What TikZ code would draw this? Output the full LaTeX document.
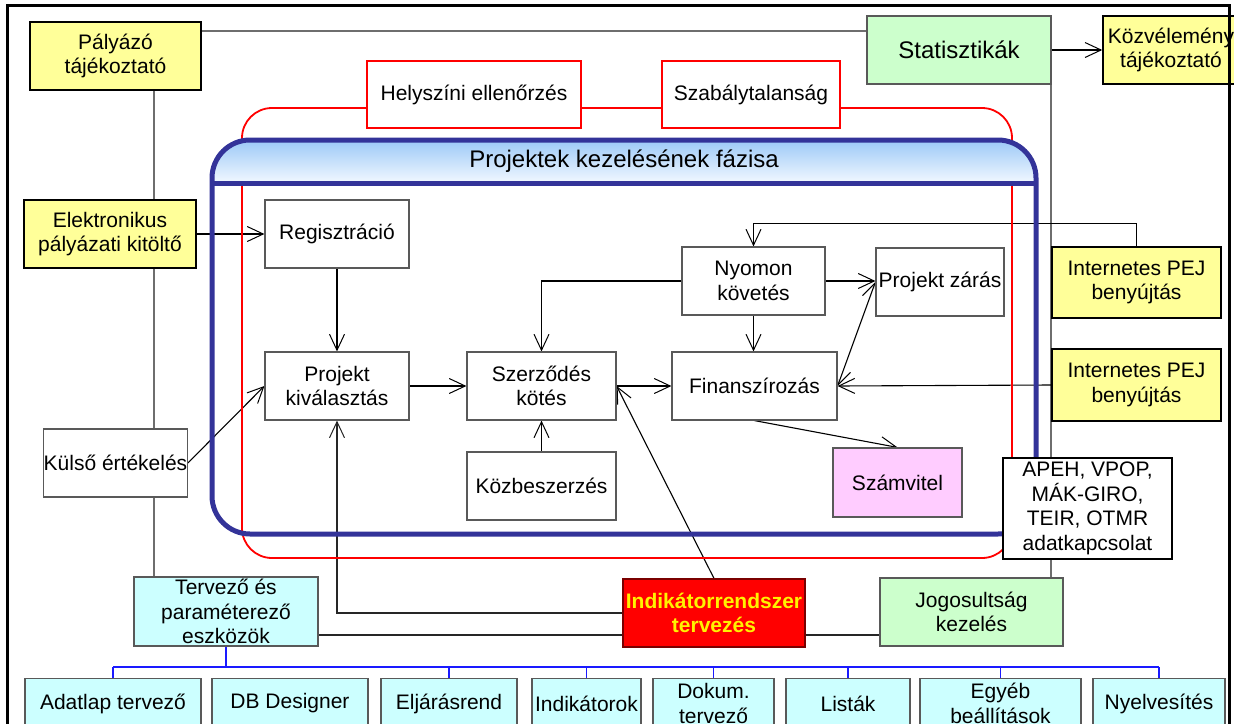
\documentclass[tikz,border=0pt]{standalone}
\usepackage{fontspec}
\setmainfont{Liberation Sans}
\usetikzlibrary{arrows.meta,calc}
\definecolor{yel}{HTML}{FFFF99}
\definecolor{grn}{HTML}{CCFFCC}
\definecolor{cyn}{HTML}{CCFFFF}
\definecolor{pnk}{HTML}{FFCCFF}
\definecolor{bfr}{HTML}{333399}
\definecolor{bgray}{HTML}{595959}
\definecolor{lgray}{HTML}{6E6E6E}
\definecolor{hdrtop}{HTML}{9CC9F7}
\definecolor{hdrbot}{HTML}{F2F8FF}
\definecolor{treeblue}{HTML}{1A1AFF}
\definecolor{darkred}{HTML}{7A0000}
\pgfdeclarelayer{bg}
\pgfdeclarelayer{conn}
\pgfdeclarelayer{frames}
\pgfdeclarelayer{top}
\pgfsetlayers{bg,conn,frames,main,top}
\newcommand{\fsz}{\fontsize{21}{24.5}\selectfont}
\newcommand{\fbig}{\fontsize{24}{28}\selectfont}
\begin{document}
\begin{tikzpicture}[x=1pt,y=-1pt,
  box/.style={draw=bgray, line width=1.2pt, fill=white, inner sep=0pt, align=center, font=\fsz},
  ybox/.style={box, draw=black, line width=1.6pt, fill=yel},
  gbox/.style={box, fill=grn},
  cbox/.style={box, fill=cyn},
  rbox/.style={box, draw=red, line width=1.8pt},
  bot/.style={cbox, minimum height=50pt},
  tip/.tip={Straight Barb[length=16pt,width=15pt,line width=1pt]},
  arr/.style={draw=black, line width=1.1pt, -tip},
  darr/.style={draw=black, line width=1.1pt, tip-tip},
  gline/.style={draw=lgray, line width=1.4pt},
  dline/.style={draw=black!85, line width=1.3pt},
  bline/.style={draw=treeblue, line width=1.4pt}
]
\useasboundingbox (0,0) rectangle (1234,723);
\begin{pgfonlayer}{bg}
  \fill[white] (0,0) rectangle (1234,723);
\end{pgfonlayer}

% nodes
\node[ybox, minimum width=171pt, minimum height=68pt] (palyazo) at (115.5,56) {Pályázó\\tájékoztató};
\node[gbox, minimum width=184pt, minimum height=68pt, font=\fbig] (stat) at (959,50) {Statisztikák};
\node[ybox, minimum width=136pt, minimum height=68pt] (kozvel) at (1171,50) {Közvélemény\\tájékoztató};
\node[rbox, minimum width=214pt, minimum height=67pt] (helyszini) at (474,94.5) {Helyszíni ellenőrzés};
\node[rbox, minimum width=178pt, minimum height=67pt] (szabaly) at (751,94.5) {Szabálytalanság};
\node[ybox, minimum width=172pt, minimum height=68pt] (elektr) at (110,234) {Elektronikus\\pályázati kitöltő};
\node[box, minimum width=144pt, minimum height=68pt] (regisz) at (337,234) {Regisztráció};
\node[box, minimum width=143pt, minimum height=68pt] (nyomon) at (753.5,281) {Nyomon\\követés};
\node[box, minimum width=128pt, minimum height=68pt] (zaras) at (940,282) {Projekt zárás};
\node[ybox, minimum width=169pt, minimum height=71pt] (pej1) at (1136.5,282.5) {Internetes PEJ\\benyújtás};
\node[ybox, minimum width=169pt, minimum height=72pt] (pej2) at (1136.5,385) {Internetes PEJ\\benyújtás};
\node[box, minimum width=144pt, minimum height=68pt] (kival) at (337,386) {Projekt\\kiválasztás};
\node[box, minimum width=149pt, minimum height=68pt] (szerz) at (541.5,386) {Szerződés\\kötés};
\node[box, minimum width=165pt, minimum height=68pt] (finan) at (754.5,386) {Finanszírozás};
\node[box, minimum width=143pt, minimum height=68pt] (kulso) at (115.5,463) {Külső értékelés};
\node[box, minimum width=149pt, minimum height=68pt] (kozbesz) at (541.5,486) {Közbeszerzés};
\node[box, fill=pnk, minimum width=129pt, minimum height=69pt] (szamv) at (897.5,482.5) {Számvitel};
\node[box, draw=black, line width=1.4pt, minimum width=169pt, minimum height=101pt] (apeh) at (1087.5,508.5) {APEH, VPOP,\\MÁK-GIRO,\\TEIR, OTMR\\adatkapcsolat};
\node[cbox, minimum width=184pt, minimum height=69pt] (terv) at (226,611.5) {Tervező és\\paraméterező\\eszközök};
\node[box, fill=red, draw=darkred, text=yellow, font=\fsz\bfseries, minimum width=182pt, minimum height=68pt] (indik) at (714,613) {Indikátorrendszer\\tervezés};
\node[gbox, minimum width=183pt, minimum height=68pt] (jog) at (971.5,612) {Jogosultság\\kezelés};

\node[bot, minimum width=176pt] (adat) at (113,703.5) {Adatlap tervező};
\node[bot, minimum width=156pt] (db) at (290,703.5) {DB Designer};
\node[bot, minimum width=136pt] (elj) at (449,703.5) {Eljárásrend};
\node[bot, minimum width=109pt] (indk) at (586.5,703.5) {Indikátorok};
\node[bot, minimum width=121pt] (dokum) at (713.5,703.5) {Dokum.\\tervező};
\node[bot, minimum width=124pt] (listak) at (848,703.5) {Listák};
\node[bot, minimum width=161pt] (egyeb) at (1000.5,703.5) {Egyéb\\beállítások};
\node[bot, minimum width=132pt] (nyelv) at (1159,703.5) {Nyelvesítés};

% frames
\begin{pgfonlayer}{frames}
  \draw[red, line width=1.8pt, rounded corners=30pt] (242,108) rectangle (1012,558);
  \begin{scope}
    \clip[rounded corners=38pt] (212,140) rectangle (1036,534);
    \shade[top color=hdrtop, bottom color=hdrbot] (212,140) rectangle (1036,183);
  \end{scope}
  \draw[bfr, line width=5pt, rounded corners=38pt] (212,140) rectangle (1036,534);
  \draw[bfr, line width=5pt] (212,183) -- (1036,183);
\end{pgfonlayer}
\node[inner sep=0pt, font=\fbig] (hdr) at (624,161) {Projektek kezelésének fázisa};

% connectors
\begin{pgfonlayer}{conn}
  \coordinate (c31) at (1051,31);
  \coordinate (cx154) at (154,0);
  \coordinate (y635) at (0,635);
  \coordinate (bus) at (0,667);
  \draw[gline] (palyazo.east |- c31) -- (c31) -- (c31 |- jog.north);
  \draw[gline] (palyazo.south -| cx154) -- (terv.north -| cx154);
  \draw[dline] (terv.east |- y635) -- (jog.west |- y635);
  \draw[arr] (stat.east) -- (kozvel.west);
  \draw[arr] (elektr.east) -- (regisz.west);
  \draw[arr] (regisz.south) -- (kival.north);
  \draw[arr] (kulso.east) -- (kival.west);
  \draw[arr] (kival.east) -- (szerz.west);
  \draw[arr] (kozbesz.north) -- (szerz.south);
  \draw[arr] (szerz.east) -- (finan.west);
  \draw[arr] (nyomon.west) -| (szerz.north);
  \draw[arr] (nyomon.south) -- (nyomon.south |- finan.north);
  \draw[arr] (pej1.north) -- ++(0,-23) -| (nyomon.north);
  \draw[arr] (nyomon.east) -- (zaras.west |- nyomon.east);
  \draw[darr] (finan.east) -- (zaras.west);
  \draw[arr] (pej2.west) -- (finan.east);
  \draw[arr] (finan.south) -- (szamv.north);
  \draw[arr] (indik.north) -- (szerz.east);
  \draw[dline, -tip] (indik.west) -| (kival.south);
  \draw[bline, line width=2pt] (terv.south) -- (terv.south |- bus);
  \draw[bline] (adat.north |- bus) -- (nyelv.north |- bus);
  \foreach \n in {adat,elj,indk,dokum,listak,egyeb,nyelv}
    \draw[bline] (\n.north |- bus) -- (\n.north);
\end{pgfonlayer}

\begin{pgfonlayer}{top}
  \draw[black, line width=3pt] (7,5) rectangle (1229,780);
\end{pgfonlayer}
\end{tikzpicture}
\end{document}
